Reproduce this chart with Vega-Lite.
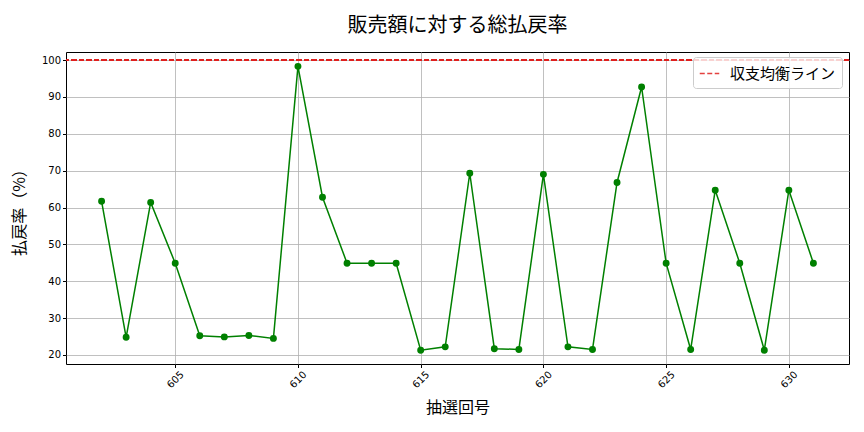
{
  "$schema": "https://vega.github.io/schema/vega-lite/v6.json",
  "autosize": {"type": "none"},
  "width": 783,
  "height": 312,
  "padding": {"left": 66, "top": 52, "right": 15, "bottom": 68},
  "background": "white",
  "title": {
    "text": "販売額に対する総払戻率",
    "font": "Noto Sans CJK JP",
    "fontSize": 20,
    "fontWeight": "normal",
    "color": "black",
    "anchor": "middle",
    "offset": 16
  },
  "data": {
    "values": [
      {"draw": 602, "rate": 61.7},
      {"draw": 603, "rate": 24.8},
      {"draw": 604, "rate": 61.4},
      {"draw": 605, "rate": 44.9},
      {"draw": 606, "rate": 25.2},
      {"draw": 607, "rate": 24.9},
      {"draw": 608, "rate": 25.3},
      {"draw": 609, "rate": 24.5},
      {"draw": 610, "rate": 98.3},
      {"draw": 611, "rate": 62.8},
      {"draw": 612, "rate": 44.9},
      {"draw": 613, "rate": 44.9},
      {"draw": 614, "rate": 44.9},
      {"draw": 615, "rate": 21.3},
      {"draw": 616, "rate": 22.2},
      {"draw": 617, "rate": 69.3},
      {"draw": 618, "rate": 21.7},
      {"draw": 619, "rate": 21.5},
      {"draw": 620, "rate": 69.0},
      {"draw": 621, "rate": 22.2},
      {"draw": 622, "rate": 21.5},
      {"draw": 623, "rate": 66.8},
      {"draw": 624, "rate": 92.7},
      {"draw": 625, "rate": 44.9},
      {"draw": 626, "rate": 21.5},
      {"draw": 627, "rate": 64.7},
      {"draw": 628, "rate": 44.9},
      {"draw": 629, "rate": 21.3},
      {"draw": 630, "rate": 64.7},
      {"draw": 631, "rate": 44.9}
    ]
  },
  "encoding": {
    "x": {
      "field": "draw",
      "type": "quantitative",
      "scale": {"domain": [600.55, 632.45], "nice": false, "zero": false},
      "axis": {
        "title": "抽選回号",
        "values": [605, 610, 615, 620, 625, 630],
        "labelAngle": -45,
        "labelAlign": "center",
        "labelBaseline": "middle",
        "labelPadding": 12,
        "titlePadding": 10
      }
    },
    "y": {
      "field": "rate",
      "type": "quantitative",
      "scale": {"domain": [17.55, 102.2], "nice": false, "zero": false},
      "axis": {
        "title": "払戻率（%）",
        "values": [20, 30, 40, 50, 60, 70, 80, 90, 100],
        "titlePadding": 14
      }
    }
  },
  "layer": [
    {
      "mark": {"type": "line", "color": "green", "strokeWidth": 1.5}
    },
    {
      "mark": {"type": "point", "filled": true, "opacity": 1, "color": "green", "size": 48}
    },
    {
      "mark": {"type": "rule", "strokeDash": [5, 2.5], "strokeWidth": 1.5, "opacity": 0.85},
      "encoding": {
        "x": null,
        "y": {
          "datum": 100,
          "type": "quantitative",
          "axis": {
            "title": "払戻率（%）",
            "values": [20, 30, 40, 50, 60, 70, 80, 90, 100],
            "titlePadding": 14
          }
        },
        "color": {
          "datum": "収支均衡ライン",
          "scale": {"range": ["#e0201e"]},
          "legend": {
            "title": null,
            "orient": "none",
            "legendX": 627,
            "legendY": 5,
            "symbolType": "stroke",
            "symbolDash": [5, 2.5],
            "symbolStrokeWidth": 1.5,
            "symbolSize": 380,
            "labelFont": "Noto Sans CJK JP",
            "labelFontSize": 15,
            "labelColor": "black",
            "labelOffset": 10,
            "padding": 6,
            "strokeColor": "#cccccc",
            "fillColor": "rgba(255,255,255,0.8)",
            "cornerRadius": 3
          }
        }
      }
    }
  ],
  "config": {
    "view": {"stroke": "black", "strokeWidth": 1},
    "axis": {
      "grid": true,
      "gridColor": "#b0b0b0",
      "gridWidth": 0.8,
      "domain": false,
      "tickColor": "black",
      "tickSize": 3.5,
      "labelOverlap": false,
      "labelFont": "DejaVu Sans",
      "labelFontSize": 10,
      "labelColor": "black",
      "titleFont": "Noto Sans CJK JP",
      "titleFontSize": 16,
      "titleFontWeight": "normal",
      "titleColor": "black"
    }
  }
}
